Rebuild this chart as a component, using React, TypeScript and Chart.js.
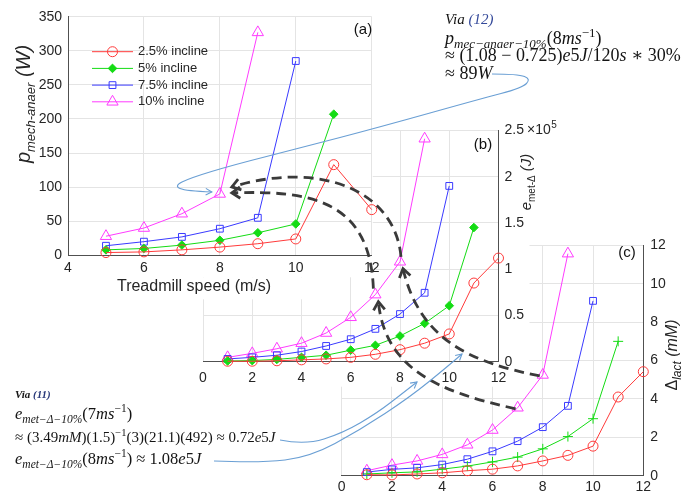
import React, { useEffect, useRef } from 'react';
import { Chart, registerables } from 'chart.js';
import { drawPoint } from 'chart.js/helpers';

Chart.register(...registerables);

const SANS = "'Liberation Sans', Arial, Helvetica, sans-serif";
const SERIF = "'Liberation Serif', 'DejaVu Serif', 'Times New Roman', serif";
const TEXT = '#262626';
const GRID = '#e4e4e4';
const AXIS = '#505050';
const DASH = '#3a3a3a';
const NOTE_BLUE = '#6a9fd4';

// ---------------- data ----------------
const inclineLabels = ['2.5% incline', '5% incline', '7.5% incline', '10% incline'];
const inclineColors = ['#ff3b3b', '#14dc14', '#3a3aff', '#ff3bff'];

// (a) p_mech-anaer (W) vs treadmill speed (m/s)
const speedsA = [5, 6, 7, 8, 9, 10, 11, 12];
const pMech25 = [4, 5, 8, 12, 17, 24, 133, 67];
const pMech5 = [8, 10, 15, 22, 33, 46, 207];
const pMech75 = [14, 20, 27, 39, 55, 285];
const pMech10 = [28, 40, 61, 90, 327];
const xTicksA = [4, 6, 8, 10, 12];
const yTicksA = [0, 50, 100, 150, 200, 250, 300, 350];

// (b) e_met-Δ (x10^5 J) vs speed
const speedsBC = [1, 2, 3, 4, 5, 6, 7, 8, 9, 10, 11, 12];
const eMet25 = [0.005, 0.005, 0.01, 0.02, 0.03, 0.047, 0.08, 0.13, 0.2, 0.3, 0.85, 1.12];
const eMet5 = [0.008, 0.012, 0.025, 0.047, 0.07, 0.125, 0.177, 0.278, 0.414, 0.605, 1.45];
const eMet75 = [0.03, 0.047, 0.07, 0.11, 0.17, 0.243, 0.355, 0.515, 0.745, 1.9];
const eMet10 = [0.047, 0.09, 0.14, 0.2, 0.31, 0.48, 0.725, 1.08, 2.41];
const xTicksBC = [0, 2, 4, 6, 8, 10, 12];
const yTicksB = [0, 0.5, 1, 1.5, 2, 2.5];

// (c) Δlact (mM) vs speed
const lact25 = [0.05, 0.04, 0.09, 0.15, 0.26, 0.34, 0.51, 0.77, 1.06, 1.54, 4.1, 5.42];
const lact5 = [0.09, 0.15, 0.2, 0.34, 0.5, 0.72, 0.97, 1.4, 2.04, 2.97, 7.0];
const lact75 = [0.19, 0.33, 0.41, 0.58, 0.86, 1.27, 1.8, 2.53, 3.64, 9.11];
const lact10 = [0.26, 0.55, 0.77, 1.11, 1.61, 2.38, 3.54, 5.25, 11.57];
const yTicksC = [0, 2, 4, 6, 8, 10, 12];

// ---------------- layout ----------------
const A_BOX = { left: 0, top: 0, width: 384, height: 300 };
const B_BOX = { left: 180, top: 110, width: 390, height: 280 };
const C_BOX = { left: 320, top: 230, width: 377, height: 263 };

type Part = { t: string; f: string; dy?: number };

function drawRich(ctx: CanvasRenderingContext2D, cx: number, cy: number, parts: Part[], rotate: boolean, color = TEXT) {
  ctx.save();
  ctx.translate(cx, cy);
  if (rotate) ctx.rotate(-Math.PI / 2);
  ctx.fillStyle = color;
  ctx.textBaseline = 'alphabetic';
  ctx.textAlign = 'left';
  let total = 0;
  const widths = parts.map((p) => {
    ctx.font = p.f;
    const w = ctx.measureText(p.t).width;
    total += w;
    return w;
  });
  let x = -total / 2;
  parts.forEach((p, i) => {
    ctx.font = p.f;
    ctx.fillText(p.t, x, p.dy || 0);
    x += widths[i];
  });
  ctx.restore();
}

type Style = { style: string; r: number; filled: boolean };
const stylesAB: Style[] = [
  { style: 'circle', r: 5, filled: false },
  { style: 'rectRot', r: 4.3, filled: true },
  { style: 'rect', r: 4.8, filled: false },
  { style: 'triangle', r: 6.5, filled: false },
];
const stylesC: Style[] = [
  { style: 'circle', r: 5, filled: false },
  { style: 'cross', r: 5, filled: false },
  { style: 'rect', r: 4.8, filled: false },
  { style: 'triangle', r: 6.5, filled: false },
];

function makeDatasets(xs: number[], ys: number[][], styles: Style[]) {
  return ys.map((vals, i) => ({
    label: inclineLabels[i],
    data: vals.map((v, j) => ({ x: xs[j], y: v })),
    borderColor: inclineColors[i],
    borderWidth: 1,
    pointStyle: styles[i].style,
    pointRadius: styles[i].r,
    pointHoverRadius: styles[i].r,
    pointBorderColor: inclineColors[i],
    pointBackgroundColor: styles[i].filled ? inclineColors[i] : 'rgba(0,0,0,0)',
    pointBorderWidth: 1,
    tension: 0,
    fill: false,
    clip: false as any,
  }));
}

function axisX(min: number, max: number, ticks: number[], pad: number, height: number) {
  return {
    type: 'linear' as const,
    min,
    max,
    afterBuildTicks: (s: any) => { s.ticks = ticks.map((v) => ({ value: v })); },
    afterFit: (s: any) => { s.height = height; },
    grid: { color: GRID, drawTicks: false, lineWidth: 1 },
    border: { display: true, color: AXIS, width: 1 },
    ticks: { padding: pad, color: TEXT, font: { family: SANS, size: 14 }, maxRotation: 0, autoSkip: false, callback: (v: any) => String(v) },
  };
}

function axisY(min: number, max: number, ticks: number[], pad: number, position: 'left' | 'right', width: number) {
  return {
    type: 'linear' as const,
    position,
    min,
    max,
    afterBuildTicks: (s: any) => { s.ticks = ticks.map((v) => ({ value: v })); },
    afterFit: (s: any) => { s.width = width; },
    grid: { color: GRID, drawTicks: false, lineWidth: 1 },
    border: { display: true, color: AXIS, width: 1 },
    ticks: { padding: pad, color: TEXT, font: { family: SANS, size: 14 }, autoSkip: false, callback: (v: any) => String(v) },
  };
}

type Extras = {
  white?: (ca: any) => number[][];
  titles: { parts: Part[]; x: number; y: number; rot: boolean }[];
  panel: { text: string; x: number; y: number };
  legend?: boolean;
  after?: (ctx: CanvasRenderingContext2D, chart: any) => void;
};

function makeExtras(spec: Extras) {
  return {
    id: 'extras',
    beforeDraw(chart: any) {
      if (!spec.white) return;
      const ctx = chart.ctx as CanvasRenderingContext2D;
      ctx.save();
      ctx.fillStyle = '#ffffff';
      spec.white(chart.chartArea).forEach(([x, y, w, h]) => ctx.fillRect(x, y, w, h));
      ctx.restore();
    },
    afterDraw(chart: any) {
      const ctx = chart.ctx as CanvasRenderingContext2D;
      spec.titles.forEach((t) => drawRich(ctx, t.x, t.y, t.parts, t.rot));
      ctx.save();
      ctx.fillStyle = '#111';
      ctx.font = `15px ${SANS}`;
      ctx.textAlign = 'center';
      ctx.textBaseline = 'middle';
      ctx.fillText(spec.panel.text, spec.panel.x, spec.panel.y);
      ctx.restore();
      if (spec.legend) {
        const ca = chart.chartArea;
        chart.data.datasets.forEach((ds: any, i: number) => {
          const y = ca.top + 35 + i * 16.7;
          const x0 = ca.left + 24;
          const x1 = ca.left + 65;
          ctx.save();
          ctx.strokeStyle = ds.borderColor;
          ctx.lineWidth = 1;
          ctx.beginPath();
          ctx.moveTo(x0, y);
          ctx.lineTo(x1, y);
          ctx.stroke();
          ctx.fillStyle = ds.pointBackgroundColor;
          ctx.strokeStyle = ds.pointBorderColor;
          drawPoint(ctx, { pointStyle: ds.pointStyle, radius: ds.pointRadius, borderWidth: 1, rotation: 0 } as any, (x0 + x1) / 2, y);
          ctx.fillStyle = TEXT;
          ctx.font = `13px ${SANS}`;
          ctx.textAlign = 'left';
          ctx.textBaseline = 'middle';
          ctx.fillText(ds.label, ca.left + 70, y);
          ctx.restore();
        });
      }
      if (spec.after) spec.after(ctx, chart);
    },
  };
}

function baseOptions(padding: any, x: any, y: any) {
  return {
    responsive: false,
    maintainAspectRatio: false,
    animation: false as const,
    devicePixelRatio: 1,
    events: [] as any[],
    layout: { padding },
    plugins: { legend: { display: false }, tooltip: { enabled: false } },
    scales: { x, y },
  };
}

function configA(): any {
  return {
    type: 'line',
    data: { datasets: makeDatasets(speedsA, [pMech25, pMech5, pMech75, pMech10], stylesAB) },
    options: baseOptions(
      { left: 0, top: 16.7, right: A_BOX.width - 378, bottom: 0 },
      axisX(4, 12, xTicksA, 4.5, A_BOX.height - 255.3),
      axisY(0, 350, yTicksA, 6, 'left', 68),
    ),
    plugins: [
      makeExtras({
        white: (ca) => [
          [0, 0, ca.right + 1, ca.bottom + 22],
          [0, ca.bottom + 22, ca.right - 33, 22],
        ],
        titles: [
          {
            parts: [
              { t: 'p', f: `italic 20px ${SANS}` },
              { t: 'mech-anaer', f: `italic 13px ${SANS}`, dy: 5 },
              { t: ' (W)', f: `italic 20px ${SANS}` },
            ],
            x: 30,
            y: 104,
            rot: true,
          },
          { parts: [{ t: 'Treadmill speed (m/s)', f: `16px ${SANS}` }], x: 194, y: 291, rot: false },
        ],
        panel: { text: '(a)', x: 363, y: 30 },
        legend: true,
      }),
    ],
  };
}

function configB(): any {
  return {
    type: 'line',
    data: { datasets: makeDatasets(speedsBC, [eMet25, eMet5, eMet75, eMet10], stylesAB) },
    options: baseOptions(
      { left: 203 - B_BOX.left, top: 130.4 - B_BOX.top, right: 0, bottom: 0 },
      axisX(0, 12, xTicksBC, 8, B_BOX.top + B_BOX.height - 361.7),
      axisY(0, 2.5, yTicksB, 6, 'right', B_BOX.left + B_BOX.width - 498.5),
    ),
    plugins: [
      makeExtras({
        white: (ca) => [[0, 0, ca.right + 31, ca.bottom + 25]],
        titles: [
          {
            parts: [
              { t: 'e', f: `italic 15px ${SANS}` },
              { t: 'met-Δ', f: `10px ${SANS}`, dy: 4 },
              { t: ' (J)', f: `italic 15px ${SANS}` },
            ],
            x: 531 - B_BOX.left,
            y: 182 - B_BOX.top,
            rot: true,
          },
        ],
        panel: { text: '(b)', x: 483 - B_BOX.left, y: 145 - B_BOX.top },
        after: (ctx, chart) => {
          const ys = chart.scales.y;
          const ca = chart.chartArea;
          const yTop = ys.getPixelForValue(yTicksB[yTicksB.length - 1]);
          ctx.save();
          ctx.font = `14px ${SANS}`;
          ctx.fillStyle = TEXT;
          ctx.textBaseline = 'middle';
          ctx.textAlign = 'left';
          const x0 = ca.right + 6 + ctx.measureText(String(yTicksB[yTicksB.length - 1])).width + 3;
          ctx.fillText('×10', x0, yTop);
          const w = ctx.measureText('×10').width;
          ctx.font = `10px ${SANS}`;
          ctx.fillText('5', x0 + w + 0.5, yTop - 5);
          ctx.restore();
        },
      }),
    ],
  };
}

function configC(): any {
  return {
    type: 'line',
    data: { datasets: makeDatasets(speedsBC, [lact25, lact5, lact75, lact10], stylesC) },
    options: baseOptions(
      { left: 341.7 - C_BOX.left, top: 241.7 - C_BOX.top, right: 0, bottom: 0 },
      axisX(0, 12, xTicksBC, 3, C_BOX.top + C_BOX.height - 475.7),
      axisY(0, 12, yTicksC, 7, 'right', C_BOX.left + C_BOX.width - 643.3),
    ),
    plugins: [
      makeExtras({
        titles: [
          {
            parts: [
              { t: 'Δ', f: `16px ${SANS}` },
              { t: 'lact', f: `italic 12px ${SANS}`, dy: 4 },
              { t: ' (mM)', f: `italic 16px ${SANS}` },
            ],
            x: 677 - C_BOX.left,
            y: 355 - C_BOX.top,
            rot: true,
          },
        ],
        panel: { text: '(c)', x: 627 - C_BOX.left, y: 253 - C_BOX.top },
      }),
    ],
  };
}

type P = [number, number];

function chevron(ctx: CanvasRenderingContext2D, tip: P, from: P, len: number, ang: number) {
  const a = Math.atan2(tip[1] - from[1], tip[0] - from[0]);
  ctx.beginPath();
  ctx.moveTo(tip[0] - len * Math.cos(a - ang), tip[1] - len * Math.sin(a - ang));
  ctx.lineTo(tip[0], tip[1]);
  ctx.lineTo(tip[0] - len * Math.cos(a + ang), tip[1] - len * Math.sin(a + ang));
  ctx.stroke();
}

function smooth(ctx: CanvasRenderingContext2D, pts: P[]) {
  ctx.beginPath();
  ctx.moveTo(pts[0][0], pts[0][1]);
  for (let i = 1; i < pts.length - 2; i++) {
    const mx = (pts[i][0] + pts[i + 1][0]) / 2;
    const my = (pts[i][1] + pts[i + 1][1]) / 2;
    ctx.quadraticCurveTo(pts[i][0], pts[i][1], mx, my);
  }
  const n = pts.length;
  ctx.quadraticCurveTo(pts[n - 2][0], pts[n - 2][1], pts[n - 1][0], pts[n - 1][1]);
  ctx.stroke();
}

function drawOverlay(ctx: CanvasRenderingContext2D, A: any, B: any, C: any) {
  const at = (ch: any, box: any, x: number, y: number, dx = 0, dy = 0): P => [
    box.left + ch.scales.x.getPixelForValue(x) + dx,
    box.top + ch.scales.y.getPixelForValue(y) + dy,
  ];
  ctx.clearRect(0, 0, 697, 493);

  // black dashed arrows linking the 10% incline points between panels
  const curves: { p0: P; c1: P; c2: P; p3: P }[] = [
    { p0: at(B, B_BOX, 8, eMet10[7], 1, -5), c1: [395, 190], c2: [320, 160], p3: at(A, A_BOX, 8, pMech10[3], 12, -7) },
    { p0: at(B, B_BOX, 7, eMet10[6], -2, -6), c1: [370, 200], c2: [310, 190], p3: at(A, A_BOX, 8, pMech10[3], 12, -1) },
    { p0: at(C, C_BOX, 8, lact10[7], -3, 1), c1: [470, 362], c2: [420, 340], p3: at(B, B_BOX, 8, eMet10[7], 3, 7) },
    { p0: at(C, C_BOX, 7, lact10[6], -2, 1), c1: [440, 392], c2: [385, 370], p3: at(B, B_BOX, 7, eMet10[6], 3, 7) },
  ];
  ctx.save();
  ctx.strokeStyle = DASH;
  ctx.lineWidth = 2.8;
  curves.forEach((c) => {
    ctx.setLineDash([10, 6]);
    ctx.beginPath();
    ctx.moveTo(c.p0[0], c.p0[1]);
    ctx.bezierCurveTo(c.c1[0], c.c1[1], c.c2[0], c.c2[1], c.p3[0], c.p3[1]);
    ctx.stroke();
    ctx.setLineDash([]);
    chevron(ctx, c.p3, c.c2, 10, 0.6);
  });
  ctx.restore();

  // thin blue annotation leaders
  ctx.save();
  ctx.strokeStyle = NOTE_BLUE;
  ctx.lineWidth = 1.1;
  const topEnd = at(A, A_BOX, 8, pMech10[3], -8, -2);
  const top: P[] = [[492, 74], [518, 74], [531, 79], [522, 88], [480, 99], [380, 127], [300, 148], [233, 165], [190, 178], [174, 186], [186, 191], topEnd];
  const low1: P[] = [[280, 440], [305, 445], [343, 433], [377, 413], [403, 393], [417, 382]];
  const low2: P[] = [[214, 461], [260, 463], [310, 457], [360, 430], [410, 397], [447, 367], [462, 354]];
  [top, low1, low2].forEach((pts) => {
    smooth(ctx, pts);
    chevron(ctx, pts[pts.length - 1], pts[pts.length - 2], 7, 0.5);
  });
  ctx.restore();
}

const note: React.CSSProperties = {
  position: 'absolute',
  fontFamily: SERIF,
  color: '#141414',
  whiteSpace: 'nowrap',
  lineHeight: 1,
};
const sub = (size: number, off: number): React.CSSProperties => ({ fontSize: size, position: 'relative', top: off });

export default function App() {
  const aRef = useRef<HTMLCanvasElement>(null);
  const bRef = useRef<HTMLCanvasElement>(null);
  const cRef = useRef<HTMLCanvasElement>(null);
  const oRef = useRef<HTMLCanvasElement>(null);

  useEffect(() => {
    const C = new Chart(cRef.current as HTMLCanvasElement, configC());
    const B = new Chart(bRef.current as HTMLCanvasElement, configB());
    const A = new Chart(aRef.current as HTMLCanvasElement, configA());
    const octx = (oRef.current as HTMLCanvasElement).getContext('2d');
    if (octx) drawOverlay(octx, A, B, C);
    return () => {
      A.destroy();
      B.destroy();
      C.destroy();
    };
  }, []);

  const canvasStyle = (box: any): React.CSSProperties => ({
    position: 'absolute',
    left: box.left,
    top: box.top,
    width: box.width,
    height: box.height,
  });

  return (
    <div style={{ position: 'absolute', left: 0, top: 0, width: 697, height: 493, background: '#ffffff', overflow: 'hidden' }}>
      <canvas ref={cRef} width={C_BOX.width} height={C_BOX.height} style={canvasStyle(C_BOX)} />
      <canvas ref={bRef} width={B_BOX.width} height={B_BOX.height} style={canvasStyle(B_BOX)} />
      <canvas ref={aRef} width={A_BOX.width} height={A_BOX.height} style={canvasStyle(A_BOX)} />
      <canvas ref={oRef} width={697} height={493} style={{ position: 'absolute', left: 0, top: 0, width: 697, height: 493, pointerEvents: 'none' }} />

      <div style={{ ...note, left: 445, top: 12, fontSize: 15, fontStyle: 'italic' }}>
        Via <span style={{ color: '#34499a' }}>(12)</span>
      </div>
      <div style={{ ...note, left: 445, top: 29, fontSize: 18 }}>
        <i>p</i>
        <i style={sub(13, 4)}>mec−anaer−10%</i>(8<i>ms</i>
        <span style={sub(13, -7)}>−1</span>)
      </div>
      <div style={{ ...note, left: 445, top: 46, fontSize: 18 }}>
        ≈ (1.08 − 0.725)<i>e</i>5<i>J</i>/120<i>s</i> ∗ 30%
      </div>
      <div style={{ ...note, left: 445, top: 64, fontSize: 18 }}>
        ≈ 89<i>W</i>
      </div>

      <div style={{ ...note, left: 15, top: 389, fontSize: 11, fontStyle: 'italic', fontWeight: 600 }}>
        Via <span style={{ color: '#2a3a7a' }}>(11)</span>
      </div>
      <div style={{ ...note, left: 15, top: 406, fontSize: 16.5 }}>
        <i>e</i>
        <i style={sub(11.5, 4)}>met−Δ−10%</i>(7<i>ms</i>
        <span style={sub(11.5, -7)}>−1</span>)
      </div>
      <div style={{ ...note, left: 15, top: 430, fontSize: 15 }}>
        ≈ (3.49<i>mM</i>)(1.5)<span style={sub(10.5, -6)}>−1</span>(3)(21.1)(492) ≈ 0.72<i>e</i>5<i>J</i>
      </div>
      <div style={{ ...note, left: 15, top: 451, fontSize: 16.5 }}>
        <i>e</i>
        <i style={sub(11.5, 4)}>met−Δ−10%</i>(8<i>ms</i>
        <span style={sub(11.5, -7)}>−1</span>) ≈ 1.08<i>e</i>5<i>J</i>
      </div>
    </div>
  );
}
